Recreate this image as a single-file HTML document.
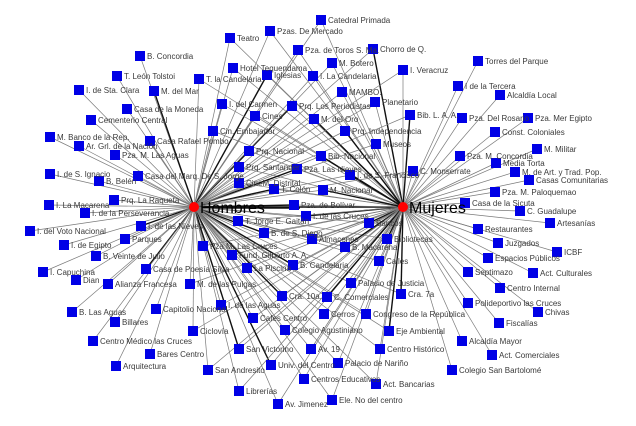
<!DOCTYPE html>
<html><head><meta charset="utf-8"><style>
html,body{margin:0;padding:0;background:#fff;}
svg{display:block}
text{font-family:"Liberation Sans",Arial,sans-serif;font-size:8px;fill:#3a3a3a}
.big{font-size:16px;fill:#000}
</style></head><body>
<svg id="s" width="636" height="426" viewBox="0 0 636 426">
<g id="L"></g><g id="R"></g>
<circle cx="194" cy="207" r="5" fill="#f00"/>
<circle cx="403" cy="207" r="5" fill="#f00"/>
<g id="T">
<text x="237" y="41">Teatro</text>
<text x="277" y="34">Pzas. De Mercado</text>
<text x="305" y="53">Pza. de Toros S. Ma.</text>
<text x="147" y="59">B. Concordia</text>
<text x="240" y="71">Hotel Tequendama</text>
<text class="t" x="274" y="78">Iglesias</text>
<text x="124" y="79">T. León Tolstoi</text>
<text x="206" y="82">T. la Candelaria</text>
<text x="86" y="93">I. de Sta. Clara</text>
<text class="t" x="161" y="94">M. del Mar</text>
<text x="320" y="79">I. La Candelaria</text>
<text x="229" y="107">I. del Carmen</text>
<text class="t" x="299" y="109">Prq. Los Periodistas</text>
<text x="134" y="112">Casa de la Moneda</text>
<text x="262" y="119">Cines</text>
<text x="98" y="123">Cementerio Central</text>
<text class="t" x="321" y="122">M. del Oro</text>
<text x="220" y="134">Cin. Embajador</text>
<text x="57" y="140">M. Banco de la Rep.</text>
<text x="157" y="144">Casa Rafael Pombo</text>
<text x="86" y="149">Ar. Grl. de la Nación</text>
<text class="t" x="256" y="154">Prq. Nacional</text>
<text x="122" y="158">Pza. M. Las Aguas</text>
<text x="246" y="170">Prq. Santander</text>
<text class="t" x="304" y="172">Pza. Las Nieves</text>
<text x="57" y="177">I. de S. Ignacio</text>
<text x="145" y="179">Casa del Marq. De S. Jorge</text>
<text x="106" y="184">B. Belén</text>
<text x="246" y="186">CineM. Distrital</text>
<text class="t" x="281" y="192">T. Colón</text>
<text x="121" y="203">Prq. La Raqueta</text>
<text x="56" y="208">I. La Macarena</text>
<text class="t" x="301" y="208">Pza. de Bolívar</text>
<text x="92" y="216">I. de la Perseverancia</text>
<text x="328" y="23">Catedral Primada</text>
<text class="t" x="380" y="52">Chorro de Q.</text>
<text x="339" y="66">M. Botero</text>
<text x="410" y="73">I. Veracruz</text>
<text x="349" y="95">MAMBO.</text>
<text x="382" y="105">Planetario</text>
<text class="t" x="417" y="118">Bib. L. A. A.</text>
<text class="t" x="352" y="134">Prq. Independencia</text>
<text x="383" y="147">Museos</text>
<text class="t" x="328" y="159">Bib. Nacional</text>
<text class="t" x="357" y="178">I. de S. Francisco</text>
<text x="420" y="174">C. Monserrate</text>
<text class="t" x="330" y="193">M. Nacional</text>
<text x="485" y="64">Torres del Parque</text>
<text x="465" y="89">I de la Tercera</text>
<text x="507" y="98">Alcaldía Local</text>
<text x="469" y="121">Pza. Del Rosario</text>
<text x="535" y="121">Pza. Mer Egipto</text>
<text x="502" y="135">Const. Coloniales</text>
<text x="544" y="152">M. Militar</text>
<text x="467" y="159">Pza. M. Concordia</text>
<text x="503" y="166">Media Torta</text>
<text x="522" y="175">M. de Art. y Trad. Pop.</text>
<text x="536" y="183">Casas Comunitarias</text>
<text x="502" y="195">Pza. M. Paloquemao</text>
<text x="472" y="206">Casa de la Sicuta</text>
<text x="527" y="214">C. Guadalupe</text>
<text class="t" x="313" y="219">I. de las Cruces</text>
<text x="245" y="224">T. Jorge E. Gaitán</text>
<text class="t" x="376" y="226">Bancos</text>
<text class="t" x="271" y="236">B. de S. Diego</text>
<text x="319" y="242">Almacenes</text>
<text class="t" x="394" y="242">Bibliotecas</text>
<text x="210" y="249">Pza M. Las Cruces</text>
<text class="t" x="352" y="250">B. Macarena</text>
<text x="239" y="258">Fund. Gilberto A. A.</text>
<text class="t" x="300" y="268">B. Candelaria</text>
<text x="386" y="264">Calles</text>
<text x="254" y="271">La Piscina</text>
<text x="197" y="287">M. de las Pulgas</text>
<text x="358" y="286">Palacio de Justicia</text>
<text x="37" y="234">I. del Voto Nacional</text>
<text class="t" x="148" y="229">I. de las Nieves</text>
<text x="71" y="248">I. de Egipto</text>
<text x="132" y="242">Parques</text>
<text x="103" y="259">B. Veinte de Julio</text>
<text x="50" y="275">I. Capuchina</text>
<text class="t" x="153" y="272">Casa de Poesía Silva</text>
<text x="83" y="283">Dian</text>
<text x="115" y="287">Alianza Francesa</text>
<text x="79" y="315">B. Las Aguas</text>
<text x="163" y="312">Capitolio Nacional</text>
<text x="228" y="308">I. de las Aguas</text>
<text x="122" y="325">Billares</text>
<text x="260" y="321">Cafes Centro</text>
<text x="200" y="334">Ciclovía</text>
<text x="100" y="344">Centro Médico las Cruces</text>
<text class="t" x="289" y="299">Cra. 10a.</text>
<text x="292" y="333">Colegio Agustiniano</text>
<text class="t" x="246" y="352">San Victorino</text>
<text x="157" y="357">Bares Centro</text>
<text x="123" y="369">Arquitectura</text>
<text x="215" y="373">San Andresito</text>
<text class="t" x="278" y="368">Univ. del Centro</text>
<text x="246" y="394">Librerías</text>
<text x="285" y="407">Av. Jimenez</text>
<text class="t" x="334" y="300">C. Comerciales</text>
<text x="331" y="317">Cerros</text>
<text class="t" x="408" y="297">Cra. 7a</text>
<text x="373" y="317">Congreso de la República</text>
<text class="t" x="396" y="334">Eje Ambiental</text>
<text x="318" y="352">Av. 19</text>
<text x="387" y="352">Centro Histórico</text>
<text x="345" y="366">Palacio de Nariño</text>
<text x="311" y="382">Centros Educativos</text>
<text x="383" y="387">Act. Bancarias</text>
<text x="339" y="403">Ele. No del centro</text>
<text x="557" y="226">Artesanías</text>
<text x="485" y="232">Restaurantes</text>
<text x="505" y="246">Juzgados</text>
<text x="564" y="255">ICBF</text>
<text x="495" y="261">Espacios Públicos</text>
<text x="475" y="275">Septimazo</text>
<text x="540" y="276">Act. Culturales</text>
<text x="507" y="291">Centro Internal</text>
<text x="475" y="306">Polideportivo las Cruces</text>
<text x="545" y="315">Chivas</text>
<text x="506" y="326">Fiscalías</text>
<text x="469" y="344">Alcaldía Mayor</text>
<text x="499" y="358">Act. Comerciales</text>
<text x="459" y="373">Colegio San Bartolomé</text>
</g>
<text class="big" x="200" y="213">Hombres</text>
<text class="big" x="409" y="213">Mujeres</text>
</svg>
<script>
var NS="http://www.w3.org/2000/svg",L=document.getElementById("L"),R=document.getElementById("R");
function ln(x1,y1,x2,y2,t){var l=document.createElementNS(NS,"line");l.setAttribute("x1",x1);l.setAttribute("y1",y1);l.setAttribute("x2",x2);l.setAttribute("y2",y2);l.setAttribute("stroke",t?"#111":"#7a7a7a");l.setAttribute("stroke-width",t?1.4:0.7);L.appendChild(l);}
ln(194,207,403,207,1);ln(194,208,300,208,1);
var H=[194,207],M=[403,207];
document.querySelectorAll("#T text").forEach(function(t,i){
 var cx=+t.getAttribute("x")-7,cy=+t.getAttribute("y")-3,th=t.classList.contains("t");
 var toH=cx<435,toM=cx>175;
 if(cx<=150)toM=false;
 var dH=Math.hypot(cx-H[0],cy-H[1]),dM=Math.hypot(cx-M[0],cy-M[1]);
 if(toH)ln(cx,cy,H[0],H[1],th&&dH<=dM);
 if(toM)ln(cx,cy,M[0],M[1],th&&dM<dH);
 var r=document.createElementNS(NS,"rect");r.setAttribute("x",cx-5);r.setAttribute("y",cy-5);r.setAttribute("width",10);r.setAttribute("height",10);r.setAttribute("fill","#0000e6");R.appendChild(r);
});
</script>
</body></html>
